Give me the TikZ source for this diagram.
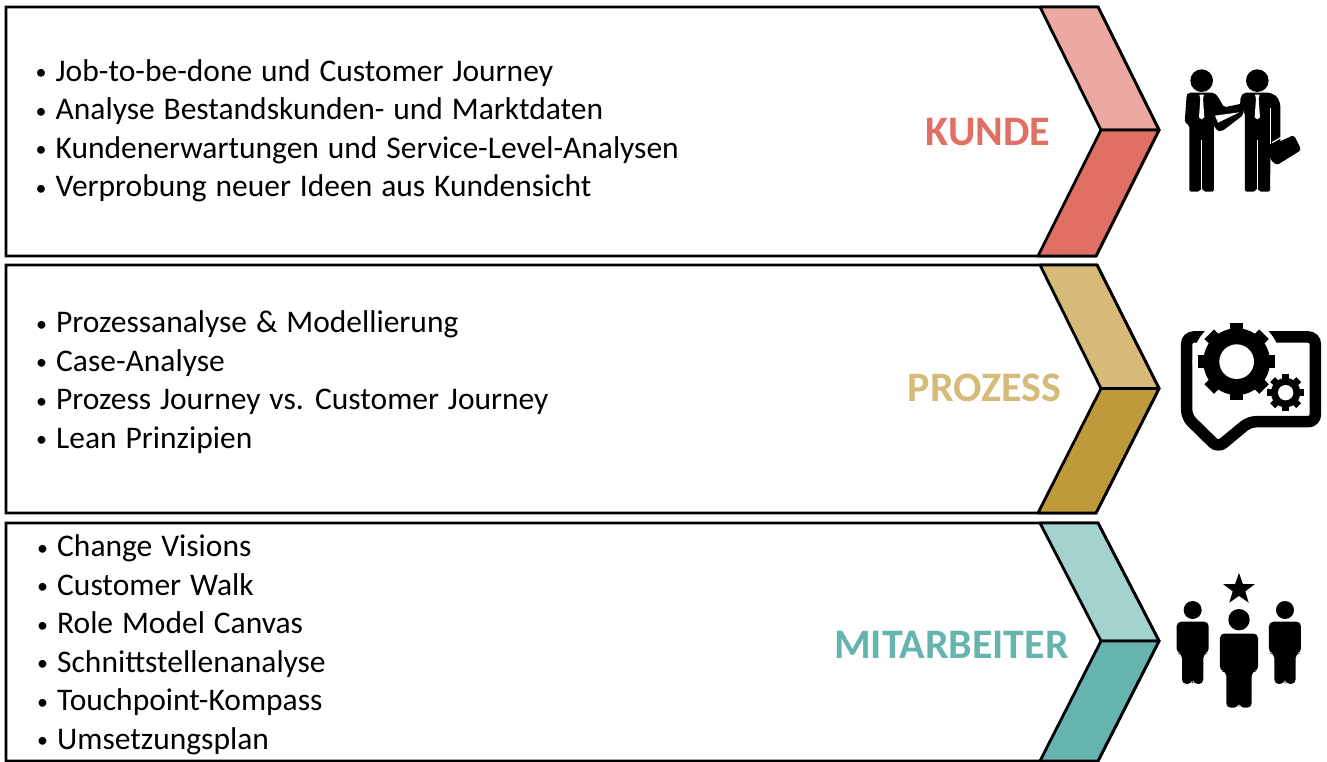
\documentclass[tikz,border=0pt]{standalone}
\usepackage{fontspec}
\setmainfont[WordSpace=1.25]{Carlito}
\usetikzlibrary{shapes.geometric,positioning}

\definecolor{kundelight}{HTML}{EBA9A2}
\definecolor{kundedark}{HTML}{E07063}
\definecolor{prozesslight}{HTML}{D5BA78}
\definecolor{prozessdark}{HTML}{BE9A3A}
\definecolor{mitarbeiterlight}{HTML}{A4D2CE}
\definecolor{mitarbeiterdark}{HTML}{65B5AE}

\newcommand{\itm}{\makebox[19.5pt][l]{\hspace{-0.5pt}\raisebox{1.5pt}{\fontsize{22}{22}\selectfont\textbullet}}}

\tikzset{
    panel/.style={draw=black, fill=white, line width=2.9pt, line join=miter},
    chevron/.style={draw=black, line width=2.8pt, line join=round},
    itemtext/.style={anchor=west, align=left, inner sep=0pt, font=\fontsize{31.5}{38.5}\selectfont},
    rowlabel/.style={inner sep=0pt, font=\fontsize{42}{44}\selectfont\bfseries},
    personicon/.pic={
        \fill (0,0) circle (27);
        \fill[rounded corners=4.5pt] (-48,35) -- (48,35) -- (48,130) -- (32,130) -- (32,222) -- (2,222) -- (0,208) -- (-2,222) -- (-32,222) -- (-32,130) -- (-48,130) -- cycle;
    }
}

\begin{document}
\begin{tikzpicture}[x=1pt, y=-1pt]
    \useasboundingbox (0,0) rectangle (1327,762);

    % Kunde
    \draw[panel] (6,7) -- (1098,7) -- (1159,130) -- (1096,256) -- (6,256) -- cycle;
    \draw[chevron, fill=kundelight] (1040,7) -- (1098,7) -- (1159,130) -- (1101,130) -- cycle;
    \draw[chevron, fill=kundedark] (1101,130) -- (1159,130) -- (1096,256) -- (1038,256) -- cycle;
    \node[itemtext] (kundetext) at (36,131) {\itm Job-to-be-done und Customer Journey\\\itm Analyse Bestandskunden- und Marktdaten\\\itm Kundenerwartungen und Service-Level-Analysen\\\itm Verprobung neuer Ideen aus Kundensicht};
    \node[rowlabel, text=kundedark] (kundelabel) at (988,132) {KUNDE};

    % Prozess
    \draw[panel] (6,265) -- (1097,265) -- (1159,388.5) -- (1096,513) -- (6,513) -- cycle;
    \draw[chevron, fill=prozesslight] (1040,265) -- (1097,265) -- (1159,388.5) -- (1101,388.5) -- cycle;
    \draw[chevron, fill=prozessdark] (1101,388.5) -- (1159,388.5) -- (1096,513) -- (1038,513) -- cycle;
    \node[itemtext] (prozesstext) at (36.5,382) {\itm Prozessanalyse \& Modellierung\\\itm Case-Analyse\\\itm Prozess Journey vs. Customer Journey\\\itm Lean Prinzipien};
    \node[rowlabel, text=prozesslight] (prozesslabel) at (984.5,388) {PROZESS};

    % Mitarbeiter
    \draw[panel] (6,523) -- (1098,523) -- (1159,641) -- (1098,761) -- (6,761) -- cycle;
    \draw[chevron, fill=mitarbeiterlight] (1040,523) -- (1098,523) -- (1159,641) -- (1101,641) -- cycle;
    \draw[chevron, fill=mitarbeiterdark] (1101,641) -- (1159,641) -- (1098,761) -- (1040,761) -- cycle;
    \node[itemtext] (mitarbeitertext) at (37.5,645) {\itm Change Visions\\\itm Customer Walk\\\itm Role Model Canvas\\\itm Schnittstellenanalyse\\\itm Touchpoint-Kompass\\\itm Umsetzungsplan};
    \node[rowlabel, text=mitarbeiterdark] (mitarbeiterlabel) at (951.5,645) {MITARBEITER};

    % Handshake icon
    \begin{scope}[xshift=1020pt, x=0.3333pt, y=-0.3333pt]
        \fill (545,242) circle (34);
        \fill (712,242) circle (34);
        \fill[rounded corners=2pt] (505,278) -- (582,278) -- (594,290) -- (612,322) -- (670,310) -- (670,345) -- (606,394) -- (590,392) -- (582,375) -- (582,575) -- (550,575) -- (545,560) -- (540,575) -- (508,575) -- (508,375) -- (494,368) -- (500,285) -- cycle;
        \fill[rounded corners=2pt] (672,278) -- (750,278) -- (772,290) -- (781,312) -- (781,436) -- (752,436) -- (750,575) -- (717,575) -- (712,560) -- (707,575) -- (675,575) -- (675,340) -- (660,318) -- (662,290) -- cycle;
        \fill[white] (585,347) -- (658,337) -- (594,368) -- cycle;
        \fill[white] (543,420) rectangle (547,565);
        \fill[white] (710,420) rectangle (714,565);
        \fill[white] (750,325) rectangle (754,432);
        \fill[white] (538,284) -- (552,284) -- (549,296) -- (553,352) -- (545,358) -- (537,352) -- (541,296) -- cycle;
        \fill[white] (705,284) -- (719,284) -- (716,296) -- (720,352) -- (712,358) -- (704,352) -- (708,296) -- cycle;
        \fill[rounded corners=3pt] (750,438) -- (822,405) -- (844,450) -- (770,496) -- (750,478) -- cycle;
        \draw[white, line width=1.2pt] (756,428) -- (788,410);
    \end{scope}

    % Gear icon
    \begin{scope}[xshift=1020pt, yshift=-255pt, x=0.3333pt, y=-0.3333pt]
        \draw[line width=11.5pt, rounded corners=7pt] (500,246) -- (886,246) -- (886,500) -- (688,500) -- (594,578) -- (500,486) -- cycle;
        \fill[white] (650,320) circle (132);
        \fill[white] (797,413) circle (66);
        \foreach \ang in {0,45,...,315} {
            \fill[rotate around={\ang:(650,320)}] (630,204) rectangle (670,436);
            \fill[rotate around={\ang:(797,413)}] (787,358) rectangle (807,468);
        }
        \fill (650,320) circle (100);
        \fill (797,413) circle (44);
        \fill[white] (650,320) circle (52);
        \fill[white] (797,413) circle (23);
    \end{scope}

    % People icon
    \begin{scope}[xshift=1020pt, yshift=-510pt, x=0.3333pt, y=-0.3333pt]
        \pic at (518,300) {personicon};
        \pic at (795,300) {personicon};
        \pic[scale=1.19] at (657,329) {personicon};
        \node[star, star points=5, star point ratio=2.5, fill=black, inner sep=0pt, minimum size=33pt] (staricon) at (657,238) {};
    \end{scope}
\end{tikzpicture}
\end{document}
